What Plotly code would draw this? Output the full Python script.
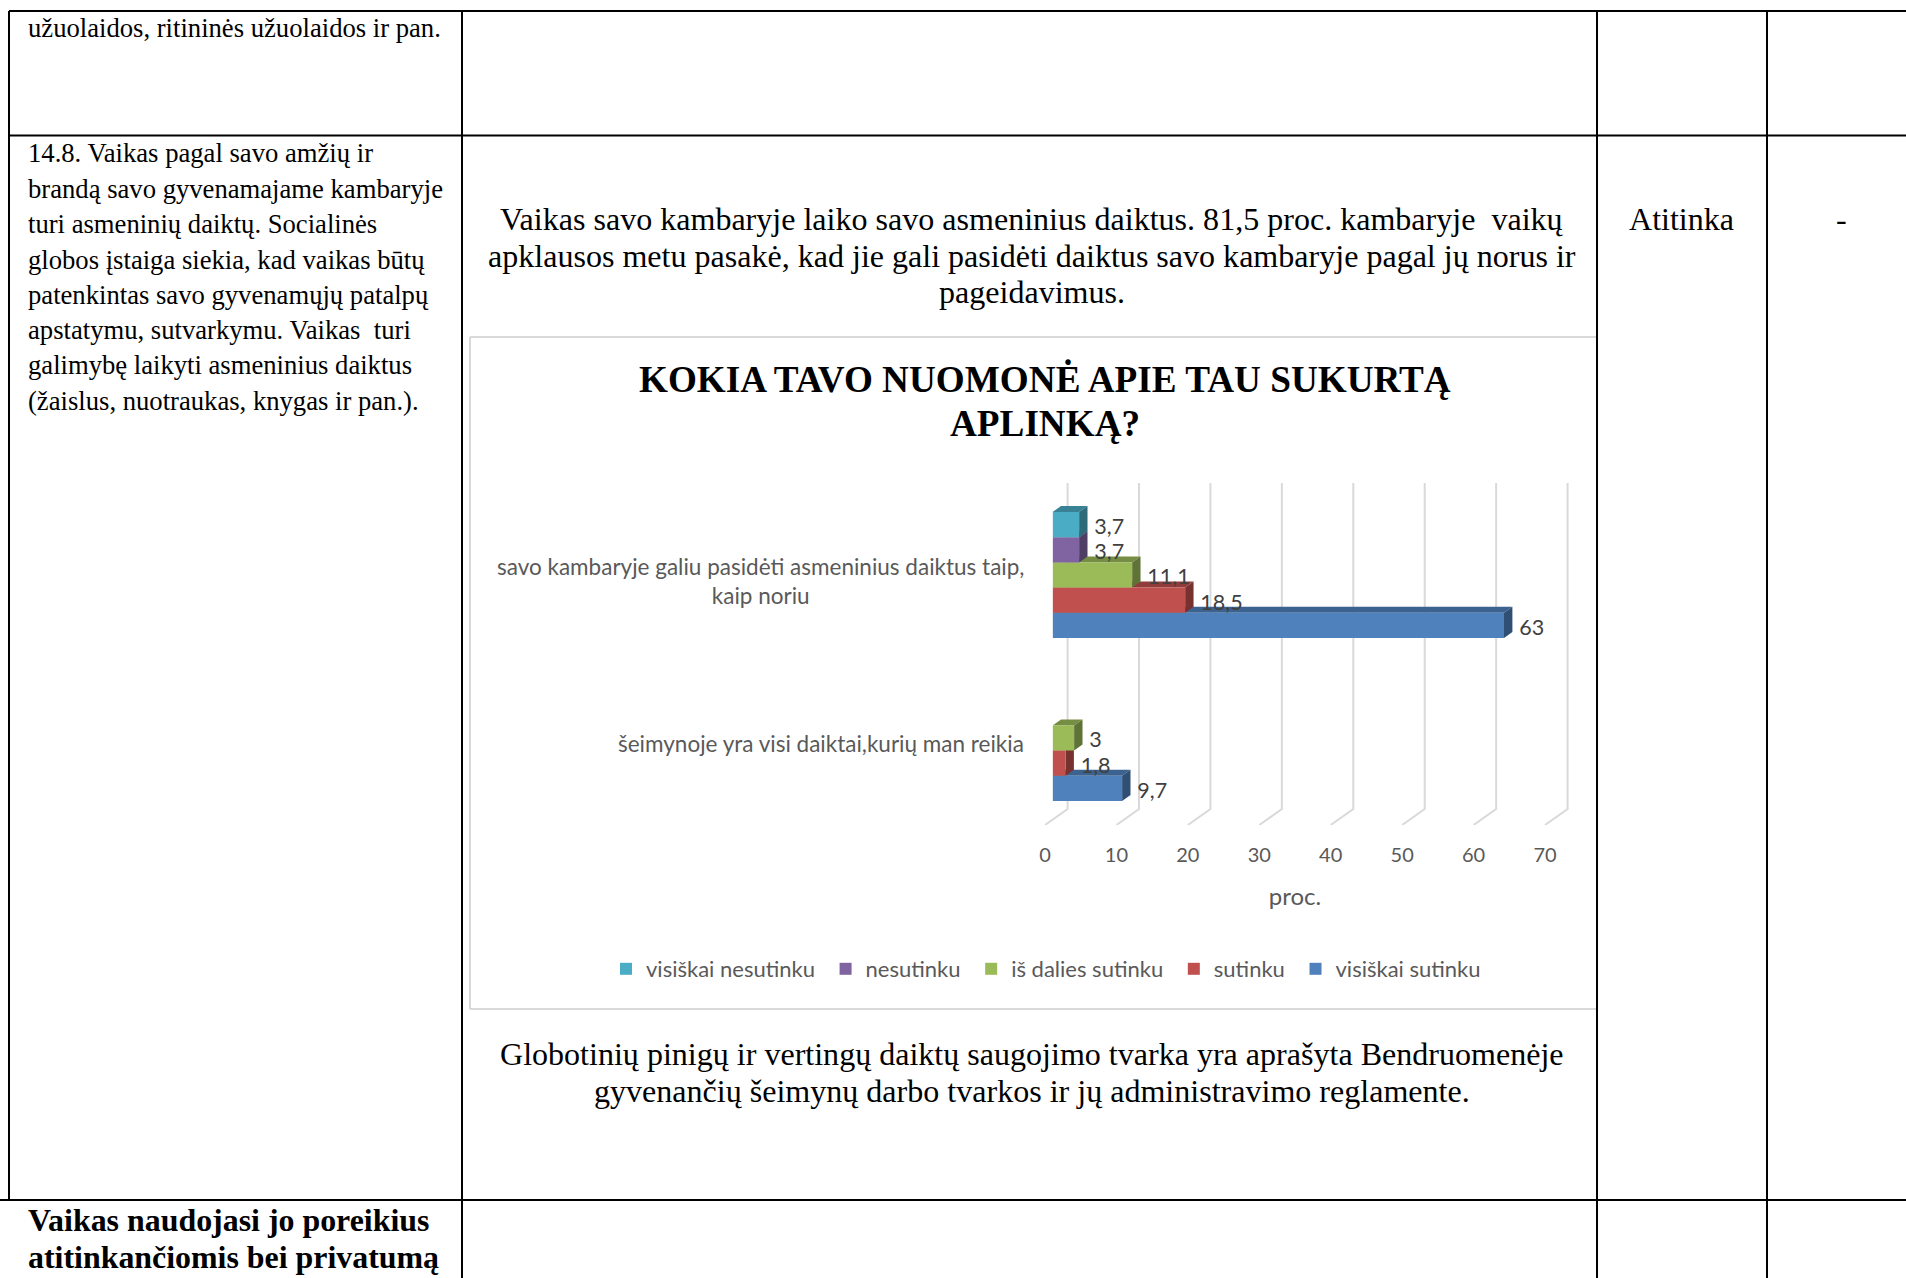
"""Lentelės fragmentas su 3D stiliaus juostine diagrama (Plotly)."""
import plotly.graph_objects as go

W, H = 1906, 1278

categories = [
    "šeimynoje yra visi daiktai,kurių man reikia",
    "savo kambaryje galiu pasidėti asmeninius daiktus taip,<br>kaip noriu",
]
series_names = ["visiškai sutinku", "sutinku", "iš dalies sutinku", "nesutinku", "visiškai nesutinku"]
series_colors = ["#4F81BD", "#C0504D", "#9BBB59", "#8064A2", "#4BACC6"]
# reikšmės: [šeimynoje, savo kambaryje]
visiskai_sutinku = [9.7, 63]
sutinku = [1.8, 18.5]
is_dalies_sutinku = [3, 11.1]
nesutinku = [None, 3.7]
visiskai_nesutinku = [None, 3.7]
series_values = [visiskai_sutinku, sutinku, is_dalies_sutinku, nesutinku, visiskai_nesutinku]
x_ticks = [0, 10, 20, 30, 40, 50, 60, 70]

left_col = [
    "14.8. Vaikas pagal savo amžių ir",
    "brandą savo gyvenamajame kambaryje",
    "turi asmeninių daiktų. Socialinės",
    "globos įstaiga siekia, kad vaikas būtų",
    "patenkintas savo gyvenamųjų patalpų",
    "apstatymu, sutvarkymu. Vaikas  turi",
    "galimybę laikyti asmeninius daiktus",
    "(žaislus, nuotraukas, knygas ir pan.).",
]
intro = [
    "Vaikas savo kambaryje laiko savo asmeninius daiktus. 81,5 proc. kambaryje  vaikų",
    "apklausos metu pasakė, kad jie gali pasidėti daiktus savo kambaryje pagal jų norus ir",
    "pageidavimus.",
]
outro = [
    "Globotinių pinigų ir vertingų daiktų saugojimo tvarka yra aprašyta Bendruomenėje",
    "gyvenančių šeimynų darbo tvarkos ir jų administravimo reglamente.",
]
title_lines = ["KOKIA TAVO NUOMONĖ APIE TAU SUKURTĄ", "APLINKĄ?"]

SERIF = "Liberation Serif"
SANS = "Lato"
GREY = "#595959"

# diagramos geometrija pikseliais
PX_PER_UNIT = 7.165
BAR_X0 = 1052.6
DEPTH_X = 8.4 / PX_PER_UNIT
DEPTH_Y = 6 / 163
SLOT = 25.2 / 163
LABEL_DY = 4 / 163
# grindų ašis: 0 ties 1045 px, 70 ties 1545 px; paraštė, kad tilptų galinė sienelė
FLOOR_PX = 500 / 70
FLOOR_PAD = 4


def px(x):
    return x / W


def py(y):
    return 1 - y / H


def shade(color, k):
    r, g, b = (int(color[i:i + 2], 16) for i in (1, 3, 5))
    return f"rgb({int(r * k)},{int(g * k)},{int(b * k)})"


fig = go.Figure()

# tinklelis: grindų įstrižainė ir galinė sienelė
grid_x, grid_y = [], []
for t in x_ticks:
    grid_x += [t, t + 3.16, t + 3.16, None]
    grid_y += [0, 16 / 342, 1, None]
fig.add_trace(go.Scatter(
    x=grid_x, y=grid_y, mode="lines", xaxis="x", yaxis="y",
    line=dict(color="#d9d9d9", width=2), showlegend=False, hoverinfo="skip",
))

# šoninės ir viršutinės sienelės (po priekinėmis juostomis)
for name, color, values in zip(series_names, series_colors, series_values):
    for cat, v in enumerate(values):
        if v is None:
            continue
        slot = series_names.index(name)
        y0 = cat + (slot - 2.5) * SLOT
        y1 = y0 + SLOT
        fig.add_trace(go.Scatter(
            x=[0, DEPTH_X, v + DEPTH_X, v, 0], y=[y1, y1 + DEPTH_Y, y1 + DEPTH_Y, y1, y1],
            mode="lines", fill="toself", fillcolor=shade(color, 0.76), line=dict(width=0),
            xaxis="x2", yaxis="y2", showlegend=False, hoverinfo="skip",
        ))
        fig.add_trace(go.Scatter(
            x=[v, v + DEPTH_X, v + DEPTH_X, v, v], y=[y0, y0 + DEPTH_Y, y1 + DEPTH_Y, y1, y0],
            mode="lines", fill="toself", fillcolor=shade(color, 0.62), line=dict(width=0),
            xaxis="x2", yaxis="y2", showlegend=False, hoverinfo="skip",
        ))

# priekinės juostos
for slot, (name, color, values) in enumerate(zip(series_names, series_colors, series_values)):
    cats = [c for c, v in enumerate(values) if v is not None]
    vals = [v for v in values if v is not None]
    ys = [c + (slot - 2) * SLOT for c in cats]
    fig.add_trace(go.Bar(
        x=vals, y=ys, width=SLOT, orientation="h", name=name + "\u00a0", xaxis="x3", yaxis="y3",
        marker=dict(color=color, line=dict(width=0)), hoverinfo="skip",
    ))
    fig.add_trace(go.Scatter(
        x=[v + DEPTH_X + 0.95 for v in vals], y=[y - LABEL_DY for y in ys], mode="text", xaxis="x3", yaxis="y3",
        text=[f"{v:g}".replace(".", ",") for v in vals], textposition="middle right",
        textfont=dict(family=SANS, size=21.5, color="#404040"), showlegend=False, hoverinfo="skip",
    ))

bar_domain_x = [px(BAR_X0), px(BAR_X0 + 70 * PX_PER_UNIT)]
bar_domain_y = [py(819.5), py(493.5)]
hidden = dict(visible=False, fixedrange=True)

fig.update_layout(
    width=W, height=H, margin=dict(l=0, r=0, t=0, b=0, pad=0, autoexpand=False),
    paper_bgcolor="white", plot_bgcolor="rgba(0,0,0,0)", showlegend=True,
    barmode="overlay",
    xaxis=dict(
        domain=[px(1045 - FLOOR_PAD * FLOOR_PX), px(1545 + FLOOR_PAD * FLOOR_PX)],
        range=[-FLOOR_PAD, 70 + FLOOR_PAD], tickvals=x_ticks, showgrid=False, zeroline=False,
        showline=False, ticks="outside", ticklen=12, tickcolor="rgba(0,0,0,0)",
        tickfont=dict(family=SANS, size=20, color=GREY),
        title=dict(text="proc.", font=dict(family=SANS, size=24, color=GREY), standoff=23),
        anchor="y",
    ),
    yaxis=dict(domain=[py(825), py(483)], range=[0, 1], **hidden),
    xaxis2=dict(domain=bar_domain_x, range=[0, 70], anchor="y2", **hidden),
    yaxis2=dict(domain=bar_domain_y, range=[-0.5, 1.5], anchor="x2", **hidden),
    xaxis3=dict(domain=bar_domain_x, range=[0, 70], anchor="y3", **hidden),
    yaxis3=dict(domain=bar_domain_y, range=[-0.5, 1.5], anchor="x3", **hidden),
    # visą puslapį dengianti ašis: užrašai pikseliais
    xaxis4=dict(domain=[0, 1], range=[0, W], anchor="y4", **hidden),
    yaxis4=dict(domain=[0, 1], range=[H, 0], anchor="x4", **hidden),
    legend=dict(
        orientation="h", traceorder="reversed", x=px(606), y=py(969), xanchor="left", yanchor="middle",
        font=dict(family=SANS, size=22, color=GREY), bgcolor="rgba(0,0,0,0)", itemclick=False,
    ),
)

# lentelės linijos
shapes = []


def line(x0, y0, x1, y1, color="black", width=2):
    shapes.append(dict(type="line", xref="paper", yref="paper", x0=px(x0), y0=py(y0), x1=px(x1), y1=py(y1),
                       line=dict(color=color, width=width), layer="below"))


line(9, 11, W, 11)
line(9, 135.5, W, 135.5)
line(0, 1200, W, 1200)
line(9, 11, 9, 1200)
for vx in [462, 1597, 1767]:
    line(vx, 11, vx, H)
# diagramos rėmelis
line(470, 337, 1596, 337, "#d9d9d9")
line(470, 337, 470, 1009, "#d9d9d9")
line(470, 1009, 1596, 1009, "#d9d9d9")
fig.update_layout(shapes=shapes)


def text(x, y, s, size=24, family=SERIF, anchor="left", color="black", align=None):
    fig.add_annotation(
        xref="x4", yref="y4", x=x, y=y, text=s, showarrow=False,
        xanchor=anchor, yanchor="middle", align=align or anchor,
        font=dict(family=family, size=size, color=color), borderpad=0, borderwidth=0,
    )


text(28, 28, "užuolaidos, ritininės užuolaidos ir pan.", 26.65)
for y, s in zip([153, 189, 224, 260, 295, 330, 365, 401], left_col):
    text(28, y, s, 26.65)
for y, s in zip([219, 255.5, 292], intro):
    text(1032, y, s, 32.05, anchor="center")
for y, s in zip([1054, 1091], outro):
    text(1032, y, s, 32.05, anchor="center")
text(1681, 219, "Atitinka", 32.05, anchor="center")
text(1841, 219, "-", 32.05, anchor="center")
text(28, 1220, "<b>Vaikas naudojasi jo poreikius</b>", 31.9)
text(28, 1257, "<b>atitinkančiomis bei privatumą</b>", 31.9)
for y, s in zip([379, 423], title_lines):
    text(1045, y, f"<b>{s}</b>", 37.2, anchor="center")

# kategorijų užrašai prie y ašies padėčių
for cat, s in enumerate(categories):
    fig.add_annotation(
        xref="x4", yref="y2", x=1026, y=cat, yshift=-5.5, text=s, showarrow=False, xanchor="right", yanchor="middle",
        align="center", font=dict(family=SANS, size=22.5, color=GREY),
    )

fig.write_html("out.html", config={"displayModeBar": False}, post_script="document.body.style.margin='0';")
